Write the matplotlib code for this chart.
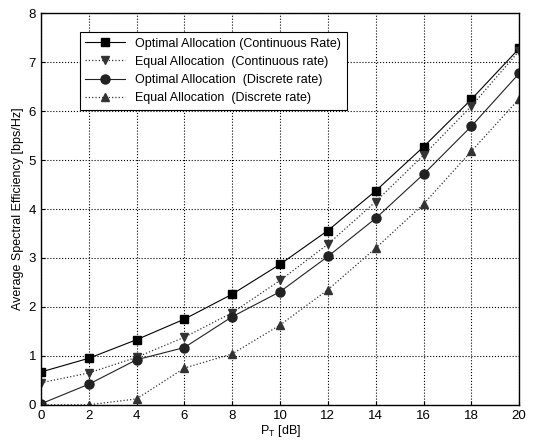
import numpy as np
import matplotlib
matplotlib.use("Agg")
from matplotlib import pyplot as plt

plt.rcParams['font.family'] = ['Liberation Sans', 'DejaVu Sans']

# P_T in dB
pt = [0, 2, 4, 6, 8, 10, 12, 14, 16, 18, 20]

opt_cont = [0.67, 0.95, 1.33, 1.75, 2.26, 2.87, 3.56, 4.37, 5.27, 6.24, 7.28]
eq_cont = [0.45, 0.65, 0.97, 1.38, 1.88, 2.54, 3.28, 4.15, 5.10, 6.10, 7.23]
opt_disc = [0.02, 0.42, 0.92, 1.17, 1.80, 2.31, 3.03, 3.81, 4.71, 5.69, 6.77]
eq_disc = [0.0, 0.0, 0.12, 0.75, 1.04, 1.63, 2.35, 3.20, 4.10, 5.18, 6.25]

labels = ['Optimal Allocation (Continuous Rate)',
          'Equal Allocation  (Continuous rate)',
          'Optimal Allocation  (Discrete rate)',
          'Equal Allocation  (Discrete rate)']

fig = plt.figure(figsize=(5.38, 4.4), dpi=100)
ax = fig.add_axes([0.076, 0.080, 0.889, 0.890])

ax.plot(pt, opt_cont, '-', color='black', lw=0.8, marker='s', ms=6, label=labels[0])
ax.plot(pt, eq_cont, ':', color='#333333', lw=0.9, marker='v', ms=5.5, label=labels[1])
ax.plot(pt, opt_disc, '-', color='#222222', lw=0.8, marker='o', ms=6.5, label=labels[2])
ax.plot(pt, eq_disc, ':', color='#333333', lw=0.9, marker='^', ms=5.5, label=labels[3])

ax.set_xlim(0, 20)
ax.set_ylim(0, 8)
ax.set_xticks(range(0, 21, 2))
ax.set_yticks(range(0, 9))
ax.grid(True, linestyle=':', color='black', lw=0.8)
ax.tick_params(direction='in', labelsize=9.5, length=3)
for s in ax.spines.values():
    s.set_linewidth(1.0)

ax.set_xlabel(r'P$_\mathregular{T}$ [dB]', fontsize=9, labelpad=1)
ax.set_ylabel('Average Spectral Efficiency [bps/Hz]', fontsize=9, labelpad=3)

leg = ax.legend(loc='upper left', bbox_to_anchor=(0.068, 0.968), fontsize=9,
                fancybox=False, framealpha=1, edgecolor='black',
                handlelength=3.2, borderpad=0.45, labelspacing=0.5)
leg.get_frame().set_linewidth(0.8)

plt.savefig('out.png', dpi=100)
